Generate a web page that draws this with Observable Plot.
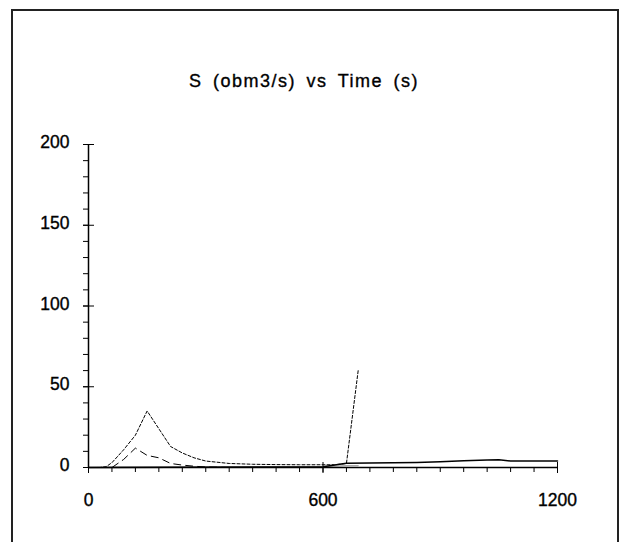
<!DOCTYPE html>
<html>
<head>
<meta charset="utf-8">
<script src="https://cdn.jsdelivr.net/npm/d3@7"></script>
<script src="https://cdn.jsdelivr.net/npm/@observablehq/plot@0.6"></script>
<style>
  html, body { margin: 0; padding: 0; background: #fff; }
  #wrap { position: relative; width: 622px; height: 542px; overflow: hidden; }
  #frame { position: absolute; left: 11px; top: 9px; width: 608px; height: 560px; border: 2px solid #222; box-sizing: border-box; pointer-events: none; }
  #chart { position: absolute; left: 0; top: 0; }
  #chart svg text { paint-order: stroke; stroke: #000; stroke-width: 0.35px; }
  #chart svg g[aria-label="text"] text { letter-spacing: 1.5px; word-spacing: 4px; }
</style>
</head>
<body>
<div id="wrap"><div id="frame"></div><div id="chart"></div></div>
<script>
const title = "S (obm3/s) vs Time (s)";

// Dotted series
const timeA = [0, 30, 45, 60, 90, 120, 150, 210, 240, 270, 300, 360, 420, 480, 540, 600, 630, 660, 690];
const valA  = [0, 0, 0.5, 3, 11, 20, 35, 13, 9, 6, 4, 2.5, 2, 1.8, 1.7, 1.7, 1.7, 2.5, 60];

// Dashed series
const timeB = [0, 60, 90, 120, 150, 180, 210, 240, 270, 300, 360, 600];
const valB  = [0, 0, 5, 12, 7.5, 6, 2.5, 1.5, 0.8, 0.3, 0, 0];

// Solid series
const timeC = [0, 600, 630, 660, 720, 780, 840, 900, 960, 1020, 1050, 1080, 1140, 1200];
const valC  = [0, 0.5, 1.5, 2.7, 2.8, 2.9, 3.1, 3.6, 4.2, 4.6, 4.8, 4.0, 4.0, 4.0];

// Light grey series
const timeD = [0, 600, 630, 660, 690];
const valD  = [0, 0.3, 0.8, 1.1, 1.2];

const xMajor = [0, 600, 1200];
const xMinor = d3.range(0, 1201, 60);
const yMajor = [0, 50, 100, 150, 200];
const yMinor = d3.range(0, 201, 10);

const A = timeA.map((t, i) => ({t, v: valA[i]}));
const B = timeB.map((t, i) => ({t, v: valB[i]}));
const C = timeC.map((t, i) => ({t, v: valC[i]}));
const D = timeD.map((t, i) => ({t, v: valD[i]}));

const font = "'Liberation Sans', Arial, sans-serif";

const plot = Plot.plot({
  width: 622,
  height: 542,
  marginLeft: 88,
  marginRight: 65,
  marginTop: 144,
  marginBottom: 75,
  style: { fontFamily: font, fontSize: "17px", color: "#000", background: "transparent", overflow: "visible" },
  x: { domain: [0, 1200] },
  y: { domain: [0, 200] },
  marks: [
    Plot.axisY({ticks: yMinor, tickSize: 5, tickFormat: () => "", stroke: "#000", label: null}),
    Plot.axisY({ticks: yMajor, tickSize: 5, tickFormat: () => "", stroke: "#000", label: null}),
    Plot.axisY({ticks: yMajor, tickSize: 0, tickPadding: 19, fontSize: 17.5, dy: -2, tickFormat: d => String(d), label: null}),
    Plot.axisY({ticks: yMajor, anchor: "right", tickSize: 5, tickFormat: () => "", stroke: "#000", dx: -469, label: null}),
    Plot.axisX({ticks: xMinor, tickSize: 5, tickFormat: () => "", stroke: "#000", label: null}),
    Plot.axisX({ticks: xMajor, tickSize: 6, tickPadding: 20, fontSize: 17.5, tickFormat: d => String(d), stroke: "#000", label: null}),
    Plot.axisX({ticks: xMajor, anchor: "top", tickSize: 6, tickFormat: () => "", stroke: "#000", dy: 323, label: null}),
    Plot.line(D, {x: "t", y: "v", stroke: "#aaa", strokeWidth: 1.2}),
    Plot.line(B, {x: "t", y: "v", stroke: "#000", strokeWidth: 1, strokeDasharray: "7,5"}),
    Plot.line(A, {x: "t", y: "v", stroke: "#000", strokeWidth: 1, strokeDasharray: "3,2"}),
    Plot.line(C, {x: "t", y: "v", stroke: "#000", strokeWidth: 1.5}),
    Plot.ruleY([0], {stroke: "#000", strokeWidth: 1.5}),
    Plot.ruleX([0], {stroke: "#000", strokeWidth: 1.5}),
    Plot.text([title], {frameAnchor: "top", dy: -70, dx: -19, fontSize: 18, fill: "#000", text: d => d})
  ]
});
document.getElementById("chart").appendChild(plot);
</script>
</body>
</html>
